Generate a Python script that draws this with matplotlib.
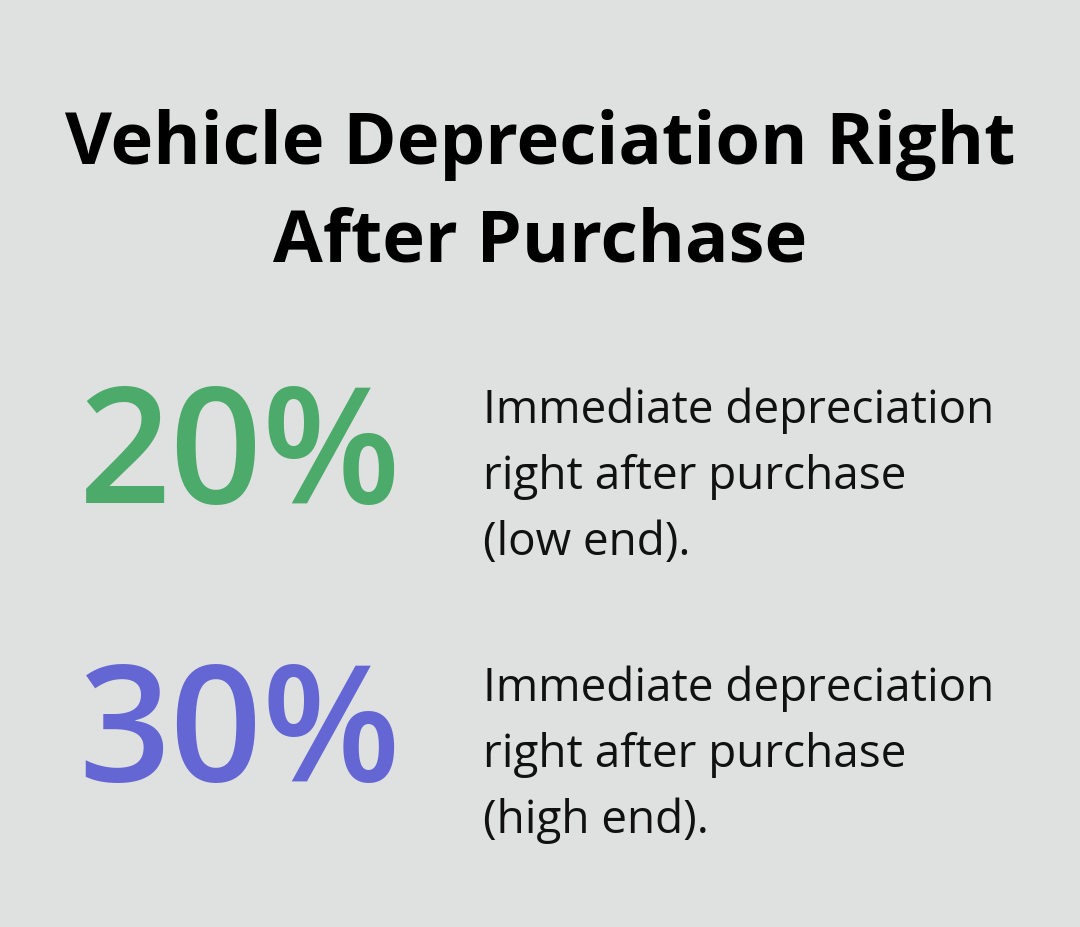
import matplotlib
matplotlib.use("Agg")
import matplotlib.pyplot as plt

title_lines = ["Vehicle Depreciation Right", "After Purchase"]
values = ["20%", "30%"]
descriptions = [["Immediate depreciation", "right after purchase", "(low end)."],
                ["Immediate depreciation", "right after purchase", "(high end)."]]
colors = ["#4caa6a", "#6466d4"]

W, H = 1080, 928
fig = plt.figure(figsize=(W/100, H/100), dpi=100)
fig.patch.set_facecolor("#dfe1e0")

def px(x, y):
    return x / W, 1 - y / H

for i, t in enumerate(title_lines):
    fig.text(*px(540, 164 + i * 97), t, ha="center", va="baseline",
             fontsize=52, fontweight="bold", family="Open Sans", color="black")

for k, (v, desc, c) in enumerate(zip(values, descriptions, colors)):
    base = 503 + k * 278
    fig.text(*px(240, base), v, ha="center", va="baseline",
             fontsize=116, fontweight="semibold", family="Open Sans", color=c)
    for j, line in enumerate(desc):
        fig.text(*px(483, 423 + k * 278 + j * 66), line, ha="left", va="baseline",
                 fontsize=33, family="Open Sans", color="#111111")

fig.savefig("out.png", dpi=100, facecolor=fig.get_facecolor())
